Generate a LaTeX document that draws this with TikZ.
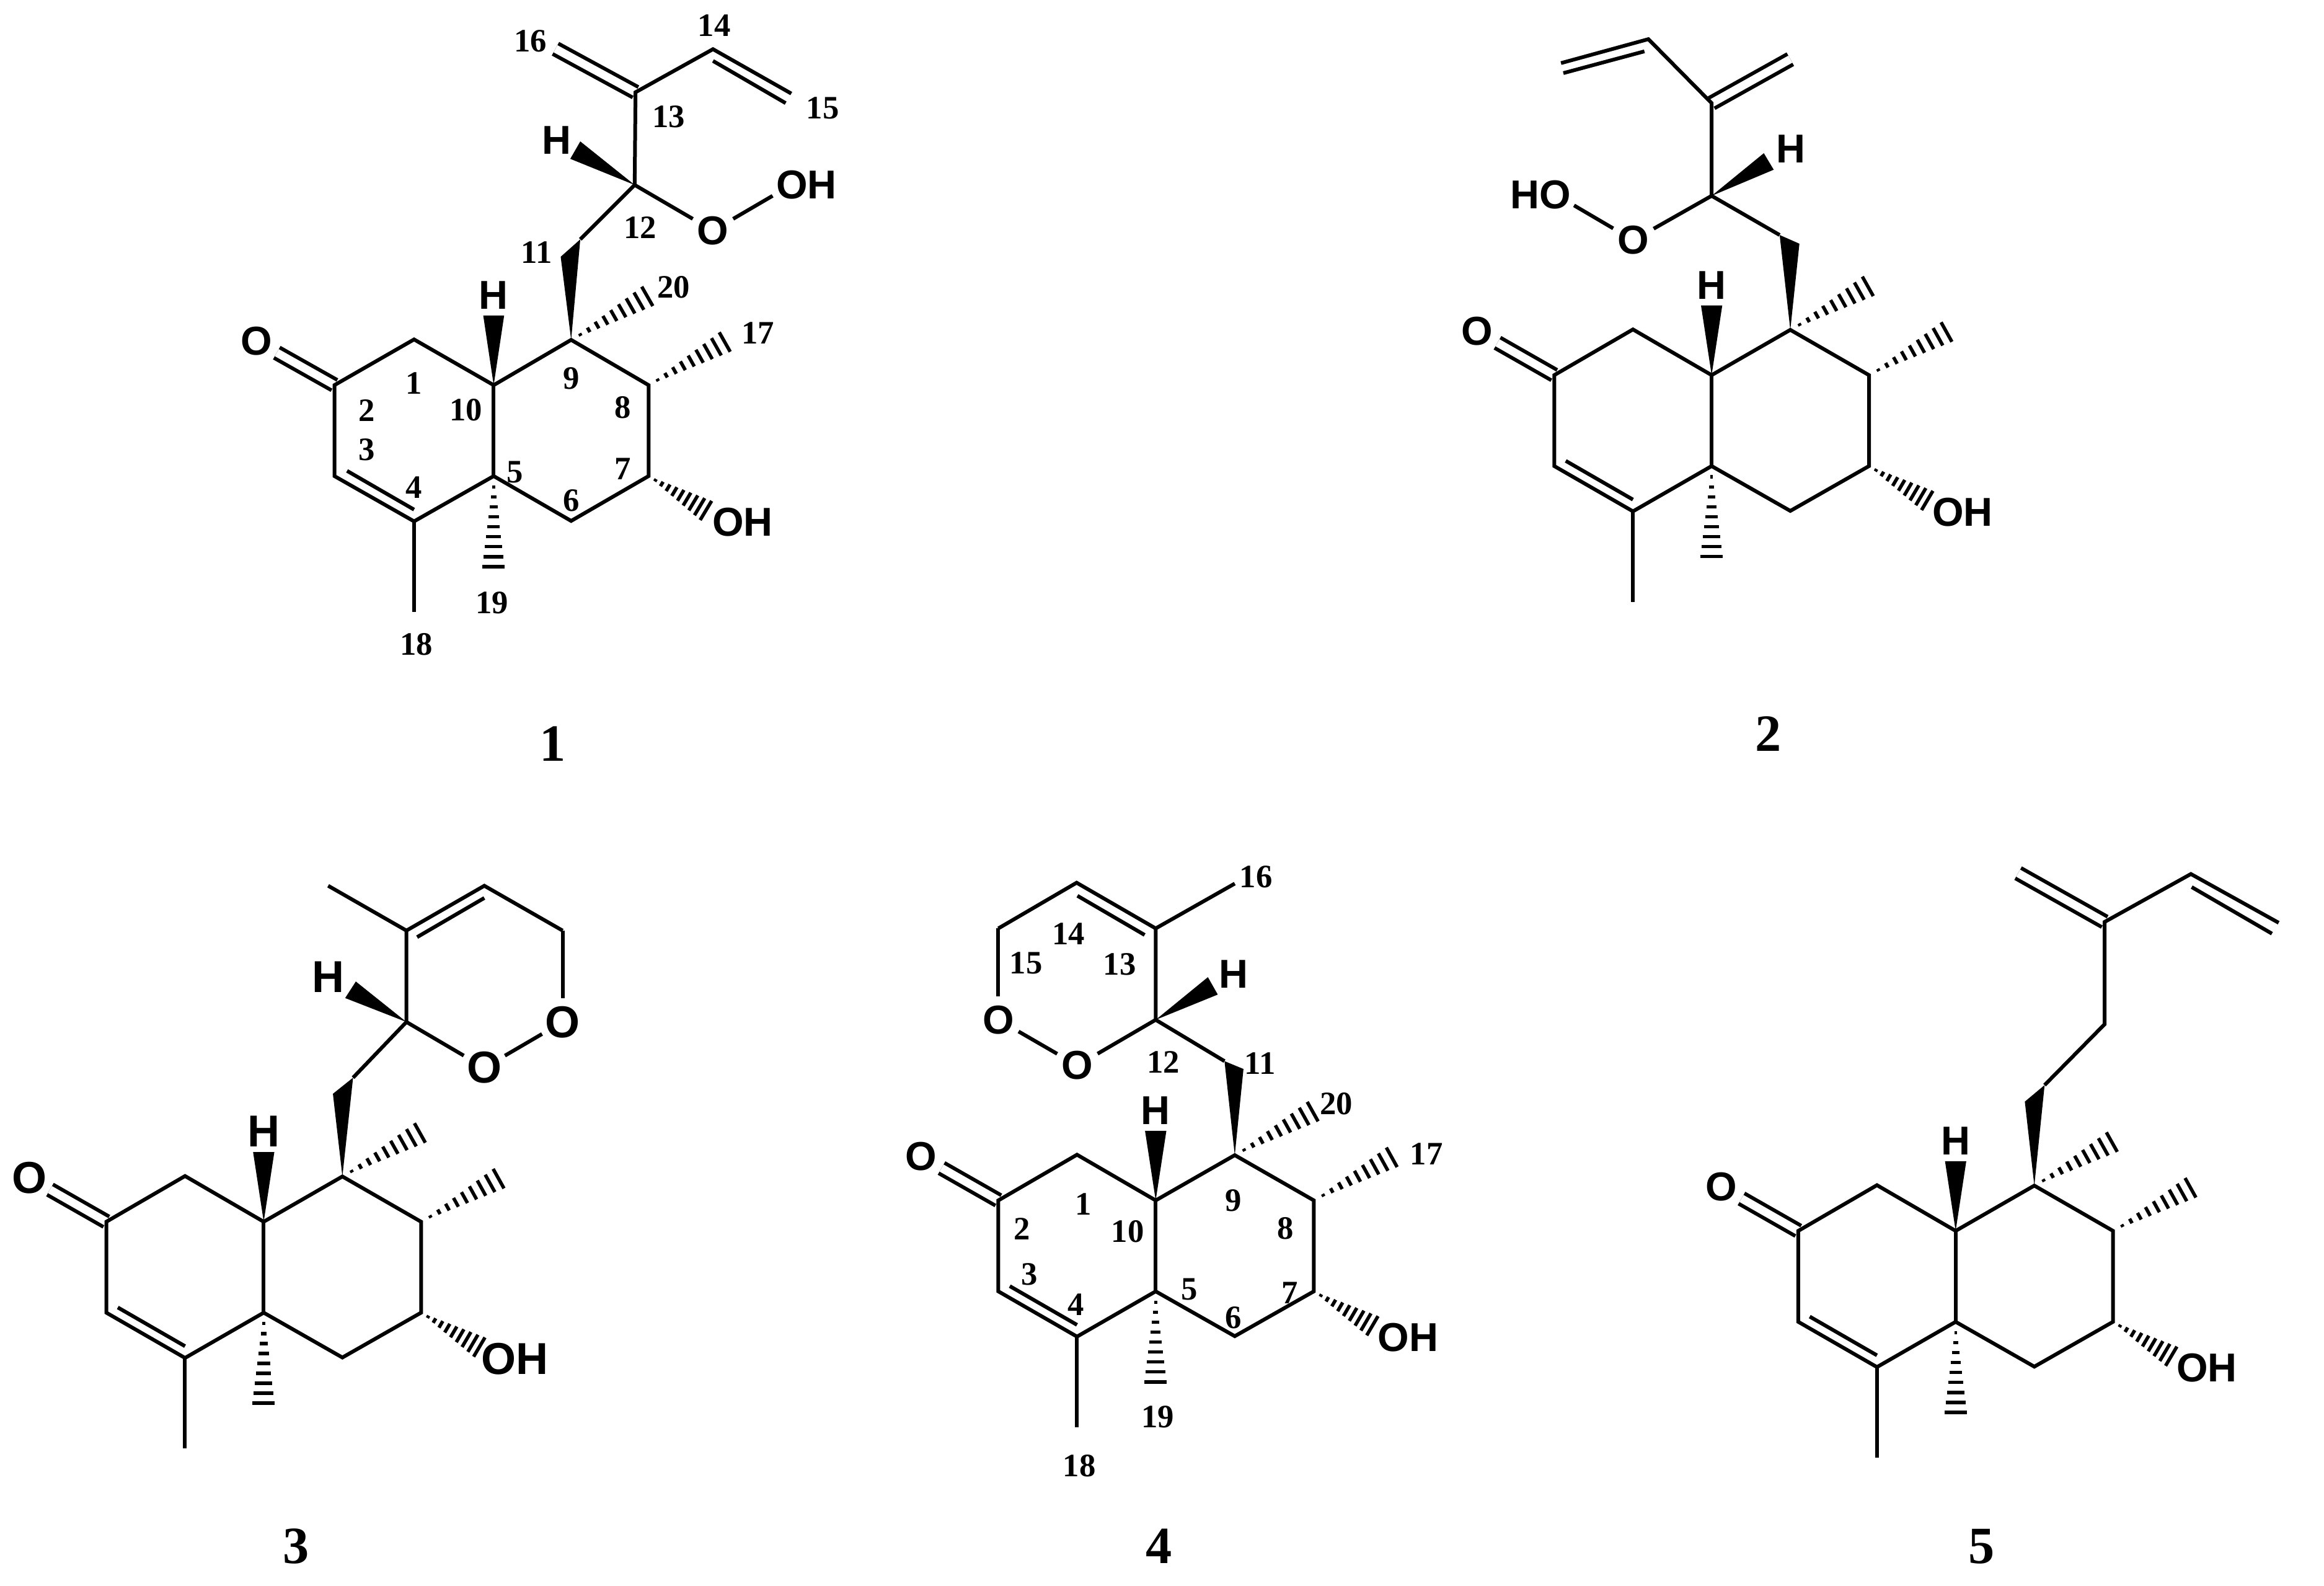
\documentclass[tikz,border=0pt]{standalone}
\usepackage{fontspec}
\usetikzlibrary{calc}
\newfontfamily\atomf{Liberation Sans Bold}
\newfontfamily\numf{Liberation Serif}
\def\atomsize{18.5}
\tikzset{
  zoomunits/.style={x=0.0070175cm,y=-0.0070175cm},
  zoomwide/.style={x=0.006378cm,y=-0.0070175cm},
  bond/.style={line width=0.6mm,line join=miter},
  dbond/.style={line width=0.6mm,double,double distance=1.3mm},
  hashline/.style={line width=0.55mm},
  atomtxt/.style={font=\atomf\fontsize{\atomsize}{\atomsize}\selectfont,inner sep=0pt},
  oxy/.style={atomtxt,circle,minimum size=7.4mm},
  numlab/.style={font=\numf\bfseries\fontsize{15}{15}\selectfont,inner sep=0pt},
  cmpd/.style={font=\numf\bfseries\fontsize{24}{24}\selectfont,inner sep=0pt},
}
% hashed wedge from #1 to #2
\newcommand\hashb[2]{%
  \foreach \hh in {0.12,0.23,0.34,0.45,0.56,0.67,0.78,0.89,1.0}{%
    \draw[hashline] ($(#1)!\hh!(#2)!\hh*1.8mm!90:(#1)$) -- ($(#1)!\hh!(#2)!\hh*1.8mm!-90:(#1)$);
  }}
% solid wedge
\newcommand\wedgeb[3]{\fill (#1) -- (#2) -- (#3) -- cycle;}
% position label: prefix, x, y, text
\newcommand\numl[4]{\node[numlab] (#1n#4) at (#2,#3) {#4};}
% decalin skeleton: prefix, x and y of C10, left and right half-widths
\newcommand\skel[5]{%
  \coordinate (#1c10) at (#2,#3);
  \coordinate (#1c5) at (#2,#3+209);
  \coordinate (#1c4) at (#2-#4,#3+313);
  \coordinate (#1c3) at (#2-2*#4,#3+209);
  \coordinate (#1c2) at (#2-2*#4,#3);
  \coordinate (#1c1) at (#2-#4,#3-105);
  \coordinate (#1c9) at (#2+#5,#3-104);
  \coordinate (#1c8) at (#2+2*#5,#3);
  \coordinate (#1c7) at (#2+2*#5,#3+209);
  \coordinate (#1c6) at (#2+#5,#3+312);
  \coordinate (#1c18) at (#2-#4,#3+521);
  \coordinate (#1i3) at (#2-2*#4+29,#3+197);
  \coordinate (#1i4) at (#2-#4,#3+286);
  \coordinate (#1hb1) at (#2-0.135*#5,#3-160);
  \coordinate (#1hb2) at (#2+0.135*#5,#3-160);
  \coordinate (#1m19) at (#2,#3+417);
  \coordinate (#1m20) at (#2+2*#5-3,#3-204);
  \coordinate (#1m17) at (#2+3*#5-3,#3-99);
  \coordinate (#1ohe) at (#2+2.74*#5,#3+288);
  \node[oxy] (#1O) at (#2-2.98*#4,#3-101) {O};
  \node[atomtxt] (#1OH) at (#2+3*#5+38,#3+315) {OH};
  \node[atomtxt] (#1H) at (#2,#3-207) {H};
  \draw[dbond] (#1c2) -- (#1O);
  \draw[bond] (#1c2) -- (#1c1) -- (#1c10) -- (#1c9) -- (#1c8) -- (#1c7) -- (#1c6) -- (#1c5) -- (#1c4) -- (#1c3) -- cycle;
  \draw[bond] (#1c10) -- (#1c5);
  \draw[bond] (#1c4) -- (#1c18);
  \draw[bond] (#1i3) -- (#1i4);
  \wedgeb{#1c10}{#1hb1}{#1hb2}
  \hashb{#1c5}{#1m19}
  \hashb{#1c9}{#1m20}
  \hashb{#1c8}{#1m17}
  \hashb{#1c7}{#1ohe}
}
\begin{document}
\begin{tikzpicture}
\useasboundingbox (0cm,0cm) rectangle (37.49cm,-25.58cm);
\fill[white] (0cm,0cm) rectangle (37.49cm,-25.58cm);

% ---------- 1 ----------
\begin{scope}[zoomunits,shift={(3.5cm,0cm)}]
  \skel{a}{636}{885}{183}{178}
  \coordinate (ab1) at (790,590);
  \coordinate (ab2) at (835,550);
  \coordinate (ac12) at (960,425);
  \coordinate (ac13) at (962,212);
  \coordinate (ac14) at (1140,113);
  \coordinate (ac15) at (1320,215);
  \coordinate (ac16) at (778,112);
  \coordinate (ai14) at (1140,140);
  \coordinate (ai15) at (1307,237);
  \coordinate (ahw1) at (835,325);
  \coordinate (ahw2) at (812,365);
  \coordinate (aooh) at (1277,450);
  \node[atomtxt] (aHt) at (780,322) {H};
  \node[oxy] (aO2) at (1140,530) {O};
  \node[atomtxt] (aOOH) at (1355,425) {OH};
  \draw[dbond] (ac13) -- (ac16);
  \wedgeb{ac9}{ab1}{ab2}
  \wedgeb{ac12}{ahw1}{ahw2}
  \draw[bond] (ab2) -- (ac12) -- (ac13) -- (ac14) -- (ac15);
  \draw[bond] (ai14) -- (ai15);
  \draw[bond] (ac12) -- (aO2);
  \draw[bond] (aO2) -- (aooh);
  \numl{a}{720}{95}{16}\numl{a}{1143}{58}{14}\numl{a}{1392}{248}{15}\numl{a}{1038}{268}{13}
  \numl{a}{973}{523}{12}\numl{a}{735}{580}{11}\numl{a}{1050}{660}{20}\numl{a}{1243}{765}{17}
  \numl{a}{815}{870}{9}\numl{a}{933}{937}{8}\numl{a}{452}{880}{1}\numl{a}{344}{943}{2}
  \numl{a}{344}{1033}{3}\numl{a}{572}{942}{10}\numl{a}{685}{1085}{5}\numl{a}{452}{1120}{4}
  \numl{a}{933}{1077}{7}\numl{a}{815}{1150}{6}\numl{a}{632}{1385}{19}\numl{a}{458}{1480}{18}
\end{scope}

% ---------- 2 ----------
\begin{scope}[zoomwide,shift={(23cm,0cm)}]
  \skel{b}{723}{862}{199}{199}
  \coordinate (bb1) at (895,540);
  \coordinate (bb2) at (945,560);
  \coordinate (bc12) at (723,450);
  \coordinate (bc13) at (723,237);
  \coordinate (bc14) at (563,90);
  \coordinate (bc15) at (342,145);
  \coordinate (bc16) at (922,136);
  \coordinate (bi14) at (553,118);
  \coordinate (bi15) at (348,168);
  \coordinate (bhw1) at (855,352);
  \coordinate (bhw2) at (880,390);
  \coordinate (booh) at (375,472);
  \node[atomtxt] (bHt) at (923,342) {H};
  \node[oxy] (bO2) at (525,552) {O};
  \node[atomtxt] (bHO) at (290,447) {HO};
  \draw[dbond] (bc13) -- (bc16);
  \wedgeb{bc9}{bb1}{bb2}
  \wedgeb{bc12}{bhw1}{bhw2}
  \draw[bond] (bb1) -- (bc12) -- (bc13) -- (bc14) -- (bc15);
  \draw[bond] (bi14) -- (bi15);
  \draw[bond] (bc12) -- (bO2);
  \draw[bond] (bO2) -- (booh);
\end{scope}

% ---------- 3 ----------
\begin{scope}[zoomwide,shift={(0cm,-13.5cm)}]
  \def\atomsize{20.5}
  \skel{c}{667}{884}{199}{199}
  \coordinate (cb1) at (842,590);
  \coordinate (cb2) at (893,553);
  \coordinate (cc12) at (1028,425);
  \coordinate (cc13) at (1028,215);
  \coordinate (cc14) at (1225,112);
  \coordinate (cc15) at (1423,215);
  \coordinate (cc16) at (830,112);
  \coordinate (ci13) at (1055,230);
  \coordinate (ci14) at (1225,140);
  \coordinate (chw1) at (900,332);
  \coordinate (chw2) at (873,370);
  \node[atomtxt] (cHt) at (830,322) {H};
  \node[oxy] (cO1) at (1423,425) {O};
  \node[oxy] (cO2) at (1225,530) {O};
  \wedgeb{cc9}{cb1}{cb2}
  \wedgeb{cc12}{chw1}{chw2}
  \draw[bond] (cb2) -- (cc12) -- (cc13) -- (cc14) -- (cc15);
  \draw[bond] (cc13) -- (cc16);
  \draw[bond] (ci13) -- (ci14);
  \draw[bond] (cc15) -- (cO1);
  \draw[bond] (cO1) -- (cO2);
  \draw[bond] (cO2) -- (cc12);
\end{scope}

% ---------- 4 ----------
\begin{scope}[zoomwide,shift={(14cm,-13.5cm)}]
  \skel{d}{728}{835}{199}{200}
  \coordinate (db1) at (902,515);
  \coordinate (db2) at (950,533);
  \coordinate (dc12) at (728,420);
  \coordinate (dc13) at (728,210);
  \coordinate (dc14) at (528,105);
  \coordinate (dc15) at (330,210);
  \coordinate (dc16) at (928,107);
  \coordinate (di13) at (700,225);
  \coordinate (di14) at (530,135);
  \coordinate (dhw1) at (860,322);
  \coordinate (dhw2) at (885,362);
  \node[atomtxt] (dHt) at (925,315) {H};
  \node[oxy] (dO1) at (330,420) {O};
  \node[oxy] (dO2) at (530,525) {O};
  \wedgeb{dc9}{db1}{db2}
  \wedgeb{dc12}{dhw1}{dhw2}
  \draw[bond] (db1) -- (dc12) -- (dc13) -- (dc14) -- (dc15);
  \draw[bond] (dc13) -- (dc16);
  \draw[bond] (di13) -- (di14);
  \draw[bond] (dc15) -- (dO1);
  \draw[bond] (dO1) -- (dO2);
  \draw[bond] (dO2) -- (dc12);
  \numl{d}{982}{92}{16}\numl{d}{507}{222}{14}\numl{d}{637}{293}{13}\numl{d}{400}{290}{15}
  \numl{d}{747}{517}{12}\numl{d}{992}{520}{11}\numl{d}{1185}{613}{20}\numl{d}{1413}{728}{17}
  \numl{d}{545}{843}{1}\numl{d}{925}{835}{9}\numl{d}{1056}{900}{8}\numl{d}{390}{900}{2}
  \numl{d}{657}{907}{10}\numl{d}{408}{1005}{3}\numl{d}{813}{1040}{5}\numl{d}{1067}{1048}{7}
  \numl{d}{527}{1075}{4}\numl{d}{925}{1105}{6}\numl{d}{733}{1332}{19}\numl{d}{535}{1445}{18}
\end{scope}

% ---------- 5 ----------
\begin{scope}[zoomwide,shift={(27cm,-13.5cm)}]
  \skel{e}{713}{905}{199}{199}
  \coordinate (eb1) at (888,608);
  \coordinate (eb2) at (938,570);
  \coordinate (ec12) at (1090,430);
  \coordinate (ec13) at (1090,195);
  \coordinate (ec14) at (1308,85);
  \coordinate (ec15) at (1530,197);
  \coordinate (ec16) at (871,83);
  \coordinate (ei14) at (1310,115);
  \coordinate (ei15) at (1513,222);
  \draw[dbond] (ec13) -- (ec16);
  \wedgeb{ec9}{eb1}{eb2}
  \draw[bond] (eb2) -- (ec12) -- (ec13) -- (ec14) -- (ec15);
  \draw[bond] (ei14) -- (ei15);
\end{scope}

\node[cmpd] (label1) at (8.92cm,-12cm) {1};
\node[cmpd] (label2) at (28.53cm,-11.84cm) {2};
\node[cmpd] (label3) at (4.78cm,-24.94cm) {3};
\node[cmpd] (label4) at (18.7cm,-24.94cm) {4};
\node[cmpd] (label5) at (31.97cm,-24.94cm) {5};
\end{tikzpicture}
\end{document}
